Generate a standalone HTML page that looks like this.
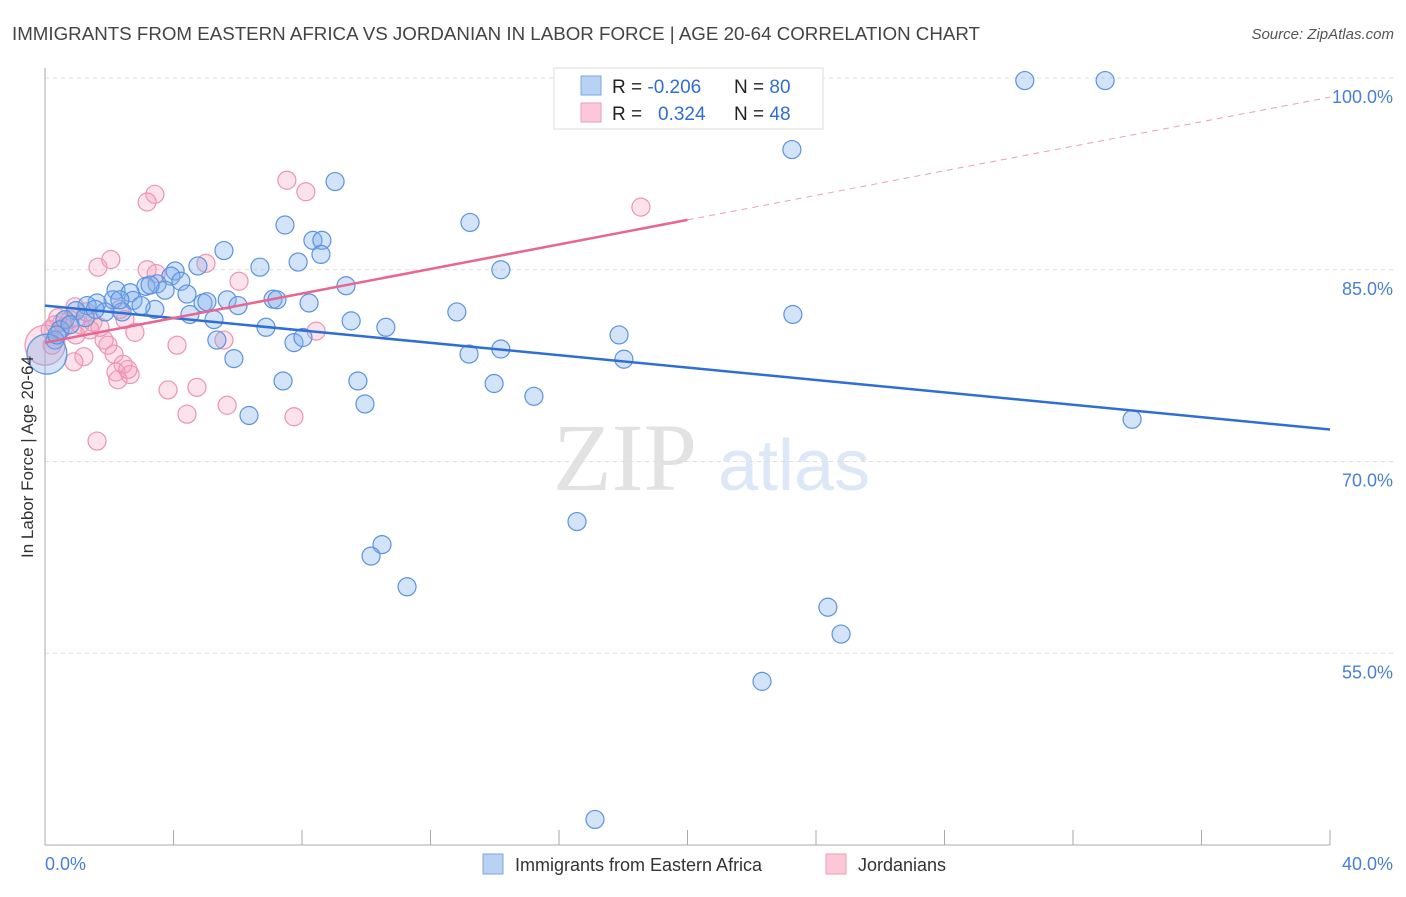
<!DOCTYPE html>
<html><head><meta charset="utf-8"><style>
body{margin:0;background:#fff;font-family:"Liberation Sans",sans-serif;}
</style></head><body>
<svg id="chart" width="1406" height="892" xmlns="http://www.w3.org/2000/svg" font-family="Liberation Sans, sans-serif">
<text x="12" y="40" font-size="18" fill="#444" textLength="968" lengthAdjust="spacingAndGlyphs">IMMIGRANTS FROM EASTERN AFRICA VS JORDANIAN IN LABOR FORCE | AGE 20-64 CORRELATION CHART</text>
<text x="1394" y="39" font-size="15" fill="#555" font-style="italic" text-anchor="end">Source: ZipAtlas.com</text>
<g>
<text x="553" y="490" font-size="96" font-family="Liberation Serif, serif" fill="#e2e2e2">ZIP</text>
<text x="718" y="490" font-size="72" fill="#dce8f7">atlas</text>
</g>
<g id="grid"></g>
<g id="marks"></g>
<text transform="translate(33,457) rotate(-90)" font-size="17" fill="#333" text-anchor="middle">In Labor Force | Age 20-64</text>
<g>
<rect x="554" y="68" width="269" height="61" fill="#fff" stroke="#ddd"/>
<rect x="581" y="76" width="20" height="19" fill="#b8d2f4" stroke="#7aa7e6"/>
<rect x="581" y="103" width="20" height="19" fill="#fcc8d8" stroke="#ee9db7"/>
<text x="612" y="93" font-size="19" fill="#222">R = <tspan fill="#2f6fd4">-0.206</tspan></text>
<text x="734" y="93" font-size="19" fill="#222">N = <tspan fill="#2f6fd4">80</tspan></text>
<text x="612" y="120" font-size="19" fill="#222">R = <tspan fill="#2f6fd4" x="658">0.324</tspan></text>
<text x="734" y="120" font-size="19" fill="#222">N = <tspan fill="#2f6fd4">48</tspan></text>
</g>
<g>
<rect x="483" y="854" width="20" height="20" fill="#b8d2f4" stroke="#7aa7e6"/>
<text x="515" y="871" font-size="18" fill="#333">Immigrants from Eastern Africa</text>
<rect x="826" y="854" width="20" height="20" fill="#fcc8d8" stroke="#ee9db7"/>
<text x="858" y="871" font-size="18" fill="#333">Jordanians</text>
</g>
<text x="45" y="870" font-size="18" fill="#4a7fd6">0.0%</text>
<text x="1393" y="870" font-size="18" fill="#4a7fd6" text-anchor="end">40.0%</text>
</svg>
<script>
const blueX=[30.5,33.0,23.25,9.03,13.23,7.47,8.34,8.62,5.57,7.88,8.59,6.69,14.19,4.76,4.05,3.92,4.23,3.49,3.14,2.21,2.65,4.42,9.37,3.74,7.10,7.22,8.22,5.67,4.92,5.04,6.01,3.42,2.74,2.12,1.62,1.31,0.96,1.87,2.40,2.99,4.51,5.26,12.82,23.28,9.53,10.61,6.88,17.87,5.35,7.75,8.03,13.2,14.19,18.02,5.88,0.62,0.47,0.31,0.06,7.41,9.74,13.98,15.22,9.96,6.35,33.84,16.56,10.49,10.15,11.27,24.37,24.78,22.32,17.12,0.78,1.25,1.56,0.37,2.33,3.27];
const blueY=[99.8,99.8,94.4,91.9,88.7,88.5,87.3,87.3,86.5,85.6,86.2,85.2,85.0,85.3,84.9,84.5,84.1,83.9,83.7,83.4,83.2,83.1,83.75,83.4,82.7,82.65,82.4,82.65,82.4,82.5,82.2,81.9,82.6,82.65,82.4,82.2,81.8,81.7,81.7,82.2,81.5,81.1,81.7,81.5,81.0,80.5,80.5,79.9,79.5,79.3,79.7,78.4,78.8,78.0,78.05,81.1,80.3,79.5,78.4,76.3,76.3,76.1,75.1,74.5,73.6,73.3,65.3,63.5,62.6,60.2,58.6,56.5,52.8,42.0,80.7,81.25,81.9,79.9,82.65,83.8];
const pinkX=[7.53,8.12,3.42,3.18,1.65,2.05,3.18,3.46,5.01,6.04,0.93,0.78,0.59,0.31,0.16,0.0,1.09,1.49,1.40,1.84,1.96,2.33,2.49,2.80,2.15,2.43,1.21,0.90,2.21,2.65,2.27,2.58,5.57,4.11,3.83,4.73,4.42,5.67,7.75,1.62,8.44,18.55,0.96,0.53,1.71,0.22,0.40,1.28];
const pinkY=[92.0,91.1,90.9,90.3,85.2,85.8,85.0,84.7,85.5,84.1,82.1,81.1,80.5,80.7,80.3,79.1,80.7,80.9,80.3,79.5,79.1,81.9,81.1,80.1,78.4,77.6,78.2,77.8,77.0,76.8,76.4,77.2,79.5,79.1,75.6,75.8,73.7,74.4,73.5,71.6,80.2,89.9,79.9,80.9,80.5,79.1,81.25,81.7];
const yTicks=[100,85,70,55];
const yTickLabels=["100.0%","85.0%","70.0%","55.0%"];
const xTicks=[0,4,8,12,16,20,24,28,32,36,40];
const blueTrend=[82.19,72.5];
const pinkTrend=[79.3,98.5];
const pinkSolidEnd=20.0;

const NS="http://www.w3.org/2000/svg";
const X0=45,X1=1330,Y0=78,Y1=845;
const sx=v=>X0+(v/40)*(X1-X0);
const sy=v=>Y0+(100-v)/60*(Y1-Y0);
function mk(tag,attrs,parent){const e=document.createElementNS(NS,tag);for(const k in attrs)e.setAttribute(k,attrs[k]);parent.appendChild(e);return e;}
const grid=document.getElementById('grid'),marks=document.getElementById('marks');
yTicks.forEach((t,i)=>{
  const l=mk('line',{x1:X0,x2:1395,y1:sy(t),y2:sy(t),stroke:'#ddd','stroke-dasharray':'4,4'},grid);
  
  
  const tx=mk('text',{x:1393,y:sy(t)+25,'font-size':18,fill:'#4a7fd6','text-anchor':'end'},grid);
  tx.textContent=yTickLabels[i];
  
  
});
const ya=mk('line',{x1:X0,x2:X0,y1:68,y2:Y1,stroke:'#aaa'},grid);


const xa=mk('line',{x1:X0,x2:X1,y1:Y1,y2:Y1,stroke:'#aaa'},grid);


xTicks.forEach(t=>{
  const l=mk('line',{x1:sx(t),x2:sx(t),y1:Y1-15,y2:Y1,stroke:'#aaa'},grid);
  
  
});
function pts(xs,ys,fill,stroke,name,bigIdx){
  xs.forEach((x,i)=>{
    const c=mk('circle',{cx:sx(x),cy:sy(ys[i]),r:i===bigIdx?20:9,fill:fill,stroke:stroke,'stroke-width':1.2},marks);
    
    
  });
}
pts(pinkX,pinkY,'rgba(246,160,188,0.3)','#ec94b1','jordanian-point',15);
pts(blueX,blueY,'rgba(130,176,234,0.35)','#5b93e0','eastern-africa-point',58);
const bt=mk('line',{x1:sx(0),y1:sy(blueTrend[0]),x2:sx(40),y2:sy(blueTrend[1]),stroke:'#2f6fd4','stroke-width':2.5},marks);


const pv=v=>pinkTrend[0]+(pinkTrend[1]-pinkTrend[0])*v/40;
const ps=mk('line',{x1:sx(0),y1:sy(pv(0)),x2:sx(pinkSolidEnd),y2:sy(pv(pinkSolidEnd)),stroke:'#e8668f','stroke-width':2.5},marks);


const pd=mk('line',{x1:sx(pinkSolidEnd),y1:sy(pv(pinkSolidEnd)),x2:sx(40),y2:sy(pv(40)),stroke:'#e8a0b8','stroke-width':1,'stroke-dasharray':'6,5'},marks);


</script>
</body></html>
